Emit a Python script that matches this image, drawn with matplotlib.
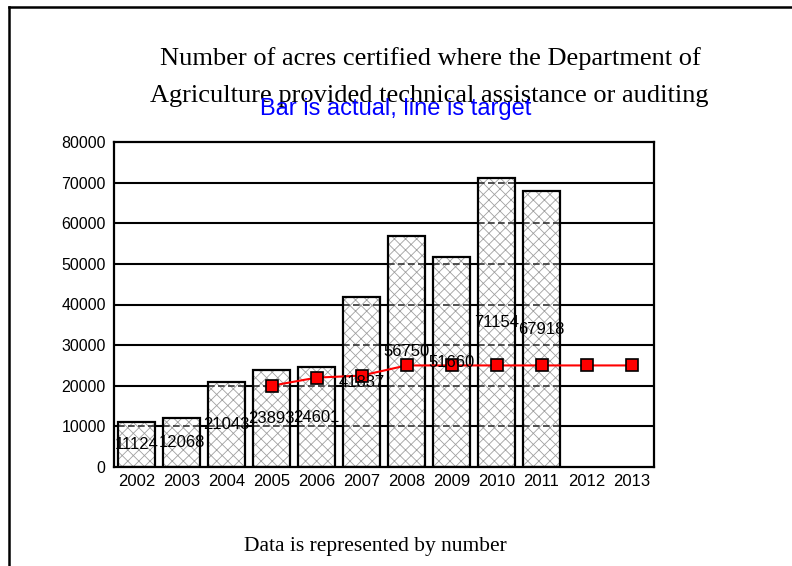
import matplotlib
matplotlib.use("Agg")
import matplotlib.pyplot as plt
from matplotlib.lines import Line2D
import numpy as np

years = ["2002", "2003", "2004", "2005", "2006", "2007", "2008", "2009",
         "2010", "2011", "2012", "2013"]
actual = [11124, 12068, 21043, 23893, 24601, 41837, 56750, 51660, 71154, 67918]
target_years = ["2005", "2006", "2007", "2008", "2009", "2010", "2011", "2012", "2013"]
target = [20000, 22000, 22500, 25000, 25000, 25000, 25000, 25000, 25000]
yticks = [0, 10000, 20000, 30000, 40000, 50000, 60000, 70000, 80000]

plt.rcParams['hatch.linewidth'] = 0.6

W, H = 792, 566
fig = plt.figure(figsize=(W / 100, H / 100), dpi=100)
fig.patch.set_facecolor("white")

ax = fig.add_axes([114 / W, 1 - 467 / H, (654 - 114) / W, (467 - 142) / H])
x = np.arange(len(years))
xb = x[:len(actual)]
xt = [years.index(y) for y in target_years]
bw = 0.82

# gridlines behind
for v in yticks[1:-1]:
    ax.axhline(v, color="black", lw=1.5, zorder=0)

# hatched fill
ax.bar(xb, actual, width=bw, color="white", edgecolor="#a0a0a0",
       hatch="xxx", linewidth=0, zorder=1)
# dashed gridlines seen through bars
for xi, h in zip(xb, actual):
    levels = [v for v in yticks[1:-1] if v < h]
    if levels:
        ax.hlines(levels, xi - bw / 2, xi + bw / 2, color="#333333", lw=1.2,
                  linestyles=(0, (4, 2)), zorder=2)
# bar outlines
ax.bar(xb, actual, width=bw, color="none", edgecolor="black",
       linewidth=1.6, zorder=3)

ax.plot(xt, target, color="red", lw=1.5, marker="s", markersize=9,
        markerfacecolor="red", markeredgecolor="black", markeredgewidth=1.2,
        zorder=4)

for xi, v in zip(xb, actual):
    ax.text(xi, v / 2, str(v), ha="center", va="center", fontsize=12,
            family="Liberation Sans", zorder=5)

ax.set_xlim(-0.5, len(years) - 0.5)
ax.set_ylim(0, 80000)
ax.set_yticks(yticks)
ax.set_yticklabels([str(v) for v in yticks], family="Liberation Sans", fontsize=11.5)
ax.set_xticks(x)
ax.set_xticklabels(years, family="Liberation Sans", fontsize=12)
ax.tick_params(axis="both", length=0)
ax.tick_params(axis="y", pad=6)
ax.tick_params(axis="x", pad=5)
for s in ax.spines.values():
    s.set_linewidth(1.6)
    s.set_color("black")

fig.text(430 / W, 1 - 65 / H, "Number of acres certified where the Department of",
         ha="center", va="baseline", family="Liberation Serif", fontsize=19)
fig.text(429 / W, 1 - 102 / H, "Agriculture provided technical assistance or auditing",
         ha="center", va="baseline", family="Liberation Serif", fontsize=19)
fig.text(396 / W, 1 - 115 / H, "Bar is actual, line is target",
         ha="center", va="baseline", family="Liberation Sans", fontsize=17,
         color="#0000ff")
fig.text(375 / W, 1 - 547 / H, "Data is represented by number",
         ha="center", va="center", family="Liberation Serif", fontsize=15.5)

# page border (top and left)
fig.add_artist(Line2D([9 / W, 1], [1 - 7 / H, 1 - 7 / H], color="black", lw=1.8,
                      transform=fig.transFigure))
fig.add_artist(Line2D([9 / W, 9 / W], [0, 1 - 7 / H], color="black", lw=1.8,
                      transform=fig.transFigure))

fig.savefig("out.png", dpi=100)
